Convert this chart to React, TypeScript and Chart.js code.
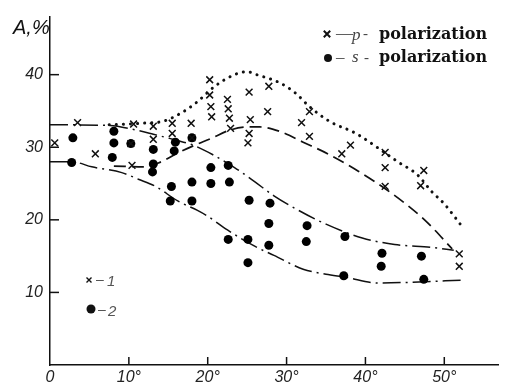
import React, { useEffect, useRef } from "react";
import { Chart, registerables } from "chart.js";

Chart.register(...registerables);

// ---- data (angle in degrees, A in %) ----
const xTickValues = [0, 10, 20, 30, 40, 50];
const xTickLabels = ["0", "10°", "20°", "30°", "40°", "50°"];
const yTickValues = [10, 20, 30, 40];
const yTickLabels = ["10", "20", "30", "40"];

// p-polarization measurements (crosses)
const pCrosses: [number, number][] = [
  [0.6, 30.6], [3.5, 33.4], [5.75, 29.1], [10.6, 33.2], [10.4, 27.5], [10.25, 30.5],
  [13.1, 32.9], [13.1, 31.1], [15.5, 33.3], [15.5, 31.9], [17.9, 33.3], [18.0, 31.3],
  [20.25, 39.3], [20.25, 37.2], [20.4, 35.6], [20.5, 34.2],
  [22.5, 36.6], [22.6, 35.3], [22.75, 34.0], [22.9, 32.6],
  [25.25, 37.6], [25.4, 33.8], [25.25, 31.9], [25.1, 30.6],
  [27.75, 38.4], [27.6, 34.9], [32.9, 34.9], [31.9, 33.4], [32.9, 31.5],
  [37.0, 29.1], [38.1, 30.3], [42.5, 29.3], [42.5, 27.2], [42.5, 24.6],
  [47.4, 26.8], [47.0, 24.7], [51.9, 15.3], [51.9, 13.6],
];

// s-polarization measurements (dots)
const sDots: [number, number][] = [
  [2.9, 31.3], [2.75, 27.9], [8.1, 32.2], [8.1, 30.6], [7.9, 28.6], [10.25, 30.5],
  [13.1, 29.7], [13.1, 27.7], [13.0, 26.6], [15.9, 30.7], [15.75, 29.5], [18.0, 31.3],
  [15.4, 24.6], [15.25, 22.6], [18.0, 25.2], [18.0, 22.6],
  [20.4, 27.2], [22.6, 27.5], [20.4, 25.0], [22.75, 25.2],
  [22.6, 17.3], [25.1, 17.3], [25.1, 14.1], [25.25, 22.7], [27.9, 22.3],
  [27.75, 19.5], [27.75, 16.5], [32.6, 19.2], [32.5, 17.0],
  [37.4, 17.7], [37.25, 12.3], [42.1, 15.4], [42.0, 13.6], [47.1, 15.0], [47.4, 11.8],
];

// envelope curves
const pUpperCurve: [number, number][] = [
  [7.5, 33.1], [11.6, 33.3], [14.4, 33.6], [16.6, 34.7], [18.5, 36.1], [20.9, 38.4],
  [23.4, 40.0], [25.0, 40.4], [26.2, 40.0], [29.1, 38.9], [31.2, 37.4], [32.8, 35.7],
  [35.4, 33.6], [38.8, 31.9], [41.6, 29.9], [44.1, 28.0], [46.6, 26.2], [48.4, 23.9],
  [50.0, 22.2], [52.1, 19.3],
];
const pLowerCurve: [number, number][] = [
  [8.1, 27.4], [12.1, 27.3], [14.1, 28.0], [16.2, 29.2], [18.4, 30.3], [20.4, 31.2],
  [22.9, 32.4], [25.0, 32.8], [26.6, 32.8], [29.1, 32.2], [32.1, 30.7], [35.4, 29.0],
  [39.1, 26.7], [43.4, 23.6], [47.5, 20.0], [51.0, 16.0],
];
const sUpperCurve: [number, number][] = [
  [0, 33.1], [7.5, 33.0], [10.4, 32.5], [13.1, 31.8], [15.9, 31.0], [18.1, 30.3],
  [20.6, 29.0], [23.4, 27.2], [25.9, 25.3], [28.4, 23.3], [31.2, 21.5], [35.0, 19.4],
  [39.6, 17.5], [43.7, 16.6], [48.4, 16.2], [51.2, 15.8],
];
const sLowerCurve: [number, number][] = [
  [0, 28.0], [2.8, 28.0], [5.3, 27.3], [9.1, 26.5], [11.2, 25.6], [13.4, 24.6],
  [16.2, 22.6], [18.7, 21.3], [20.0, 20.5], [22.5, 18.6], [25.9, 16.4], [28.4, 15.1],
  [32.1, 13.2], [35.0, 12.5], [37.5, 12.1], [41.6, 11.3], [45.9, 11.4], [52.3, 11.7],
];

const INK = "#111";
const toXY = (arr: [number, number][]) => arr.map(([x, y]) => ({ x, y }));

const decorPlugin = {
  id: "decor",
  afterDraw(chart: any) {
    const ctx = chart.ctx as CanvasRenderingContext2D;
    const xs = chart.scales.x;
    const ys = chart.scales.y;
    const area = chart.chartArea;
    ctx.save();
    ctx.strokeStyle = INK;
    ctx.lineWidth = 1.5;
    // inward tick marks
    xTickValues.forEach((v) => {
      if (v === 0) return;
      const px = xs.getPixelForValue(v);
      ctx.beginPath();
      ctx.moveTo(px, area.bottom);
      ctx.lineTo(px, area.bottom - 8);
      ctx.stroke();
    });
    yTickValues.forEach((v) => {
      const py = ys.getPixelForValue(v);
      ctx.beginPath();
      ctx.moveTo(area.left, py);
      ctx.lineTo(area.left + 9, py);
      ctx.stroke();
    });

    // axis title
    ctx.fillStyle = INK;
    ctx.textBaseline = "middle";
    ctx.textAlign = "left";
    ctx.font = "italic 20px 'Liberation Sans', sans-serif";
    ctx.fillText("A,%", 13, 28);

    // top-right legend
    const drawCross = (cx: number, cy: number, r: number, w: number) => {
      ctx.lineWidth = w;
      ctx.beginPath();
      ctx.moveTo(cx - r, cy - r);
      ctx.lineTo(cx + r, cy + r);
      ctx.moveTo(cx + r, cy - r);
      ctx.lineTo(cx - r, cy + r);
      ctx.stroke();
    };
    const drawDot = (cx: number, cy: number, r: number) => {
      ctx.beginPath();
      ctx.arc(cx, cy, r, 0, Math.PI * 2);
      ctx.fill();
    };
    drawCross(327, 34, 3.2, 2);
    drawDot(328, 58, 4);
    ctx.fillStyle = "#444";
    ctx.font = "17px 'Liberation Serif', serif";
    ctx.fillText("—", 336, 34);
    ctx.fillText("–", 336, 58);
    ctx.font = "italic 17px 'Liberation Serif', serif";
    ctx.fillText("p", 352, 36);
    ctx.fillText("s", 352, 58);
    ctx.font = "15px 'Liberation Serif', serif";
    ctx.fillText("-", 363, 34);
    ctx.fillText("-", 364, 58);
    ctx.fillStyle = INK;
    ctx.font = "bold 16px 'DejaVu Serif', serif";
    ctx.fillText("polarization", 379, 35);
    ctx.fillText("polarization", 379, 58);

    // lower-left legend
    ctx.strokeStyle = INK;
    drawCross(89, 280, 2.5, 1.4);
    drawDot(91, 309, 4.5);
    ctx.fillStyle = "#555";
    ctx.font = "14px 'Liberation Sans', sans-serif";
    ctx.fillText("–", 96, 280);
    ctx.fillText("–", 98, 310);
    ctx.font = "italic 15px 'Liberation Sans', sans-serif";
    ctx.fillText("1", 107, 282);
    ctx.fillText("2", 108, 312);
    ctx.restore();
  },
};

export default function App() {
  const ref = useRef<HTMLCanvasElement | null>(null);
  useEffect(() => {
    if (!ref.current) return;
    const tickFont = { family: "'Liberation Sans', sans-serif", size: 16, style: "italic" as const };
    const chart = new Chart(ref.current, {
      type: "scatter",
      data: {
        datasets: [
          {
            label: "p",
            data: toXY(pCrosses),
            pointStyle: "crossRot",
            pointRadius: 4.8,
            borderColor: INK,
            borderWidth: 1.5,
            showLine: false,
          },
          {
            label: "s",
            data: toXY(sDots),
            pointStyle: "circle",
            pointRadius: 4.5,
            backgroundColor: "#000",
            borderWidth: 0,
            showLine: false,
          },
          {
            label: "pUpper",
            data: toXY(pUpperCurve),
            showLine: true,
            pointRadius: 0,
            borderColor: INK,
            borderWidth: 3,
            borderDash: [0.1, 7],
            borderCapStyle: "round",
            cubicInterpolationMode: "monotone",
          },
          {
            label: "pLower",
            data: toXY(pLowerCurve),
            showLine: true,
            pointRadius: 0,
            borderColor: INK,
            borderWidth: 1.7,
            borderDash: [12, 6],
            cubicInterpolationMode: "monotone",
          },
          {
            label: "sUpper",
            data: toXY(sUpperCurve),
            showLine: true,
            pointRadius: 0,
            borderColor: INK,
            borderWidth: 1.5,
            borderDash: [18, 5, 2, 5],
            cubicInterpolationMode: "monotone",
          },
          {
            label: "sLower",
            data: toXY(sLowerCurve),
            showLine: true,
            pointRadius: 0,
            borderColor: INK,
            borderWidth: 1.5,
            borderDash: [18, 5, 2, 5],
            cubicInterpolationMode: "monotone",
          },
        ],
      },
      options: {
        animation: false,
        responsive: false,
        events: [],
        layout: { padding: { top: 9, right: 0, left: 0, bottom: 0 } },
        plugins: { legend: { display: false }, tooltip: { enabled: false } },
        scales: {
          x: {
            type: "linear",
            min: 0,
            max: 56.9,
            grid: { display: false, drawTicks: false },
            border: { display: true, color: INK, width: 1.5 },
            afterFit: (s: any) => { s.height = 20; },
            afterBuildTicks: (s: any) => { s.ticks = xTickValues.map((v) => ({ value: v })); },
            ticks: {
              padding: 3,
              color: "#222",
              font: tickFont,
              maxRotation: 0,
              autoSkip: false,
              callback: (v: any) => {
                const i = xTickValues.indexOf(Number(v));
                return i >= 0 ? xTickLabels[i] : "";
              },
            },
          },
          y: {
            type: "linear",
            min: 0,
            max: 48,
            grid: { display: false, drawTicks: false },
            border: { display: true, color: INK, width: 1.5 },
            afterFit: (s: any) => { s.width = 50; },
            afterBuildTicks: (s: any) => { s.ticks = yTickValues.map((v) => ({ value: v })); },
            ticks: {
              padding: 7,
              color: "#222",
              font: tickFont,
              autoSkip: false,
              callback: (v: any) => {
                const i = yTickValues.indexOf(Number(v));
                return i >= 0 ? yTickLabels[i] : "";
              },
            },
          },
        },
      },
      plugins: [decorPlugin],
    });
    return () => chart.destroy();
  }, []);
  return (
    <div style={{ position: "absolute", left: 0, top: 0, width: 505, height: 385, background: "#fff" }}>
      <canvas ref={ref} width={505} height={385} />
    </div>
  );
}
